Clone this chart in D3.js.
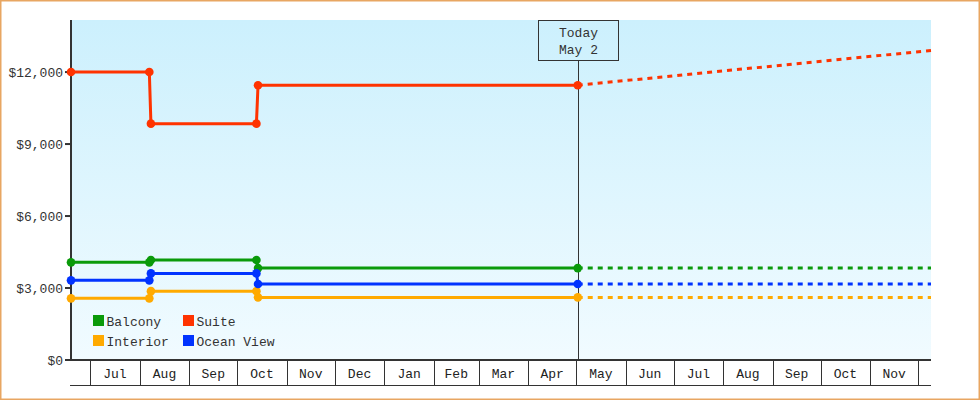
<!DOCTYPE html>
<html>
<head>
<meta charset="utf-8">
<script src="https://cdn.jsdelivr.net/npm/d3@7"></script>
<style>
  html, body { margin: 0; padding: 0; background: #fff; }
  svg { display: block; font-family: "Liberation Mono", "DejaVu Sans Mono", monospace; font-size: 13px; }
</style>
</head>
<body>
<svg id="chart" width="980" height="400"></svg>
<script>
// ---- data ----
const seriesNames = ["Balcony", "Suite", "Interior", "Ocean View"];
const seriesColors = ["#0a9a0a", "#ff3300", "#ffaa00", "#0033ff"];
const priceDates = ["2012-06-19", "2012-08-07", "2012-08-08", "2012-10-13", "2012-10-14", "2013-05-02"];
const balcony   = [4070, 4070, 4170, 4170, 3830, 3830];
const suite     = [12000, 12000, 9850, 9850, 11450, 11450];
const interior  = [2570, 2570, 2870, 2870, 2610, 2610];
const oceanView = [3320, 3320, 3610, 3610, 3170, 3170];
const projectionEnd = "2013-12-09";
const projected = [3830, 12900, 2610, 3170];   // same order as seriesNames
const todayLabel = ["Today", "May 2"];
const yTicks = [0, 3000, 6000, 9000, 12000];
const yMax = 14170;

// ---- layout ----
const W = 980, H = 400;
const m = { top: 20, right: 49, bottom: 40, left: 71 };
const svg = d3.select("#chart");
const parse = d3.timeParse("%Y-%m-%d");
const dates = priceDates.map(parse);
const endDate = parse(projectionEnd);
const today = dates[dates.length - 1];
const values = [balcony, suite, interior, oceanView];

const x = d3.scaleTime()
  .domain([dates[0], endDate])
  .range([m.left, W - m.right]);
const y = d3.scaleLinear()
  .domain([0, yMax])
  .range([H - m.bottom, m.top]);

// outer frame
svg.append("rect")
  .attr("x", 0.75).attr("y", 0.75)
  .attr("width", W - 1.5).attr("height", H - 1.5)
  .attr("fill", "#fff").attr("stroke", "#e8a662").attr("stroke-width", 1.5);

// plot background gradient
const grad = svg.append("defs").append("linearGradient")
  .attr("id", "bg").attr("x1", 0).attr("y1", 0).attr("x2", 0).attr("y2", 1);
grad.append("stop").attr("offset", "0%").attr("stop-color", "#ccf0fd");
grad.append("stop").attr("offset", "100%").attr("stop-color", "#f1fbff");

svg.append("rect")
  .attr("x", m.left).attr("y", m.top)
  .attr("width", W - m.left - m.right)
  .attr("height", H - m.top - m.bottom)
  .attr("fill", "url(#bg)");

// ---- x axis: month cells ----
const axisTop = H - m.bottom, axisBottom = axisTop + 25;
const xg = svg.append("g").attr("shape-rendering", "crispEdges");
const monthStarts = d3.timeMonth.range(d3.timeMonth.ceil(dates[0]), endDate);

xg.selectAll("line.sep")
  .data(monthStarts)
  .join("line")
  .attr("class", "sep")
  .attr("x1", d => Math.round(x(d)) + 0.5).attr("x2", d => Math.round(x(d)) + 0.5)
  .attr("y1", axisTop).attr("y2", axisBottom)
  .attr("stroke", "#333");

xg.append("line")
  .attr("x1", m.left - 1).attr("x2", W - m.right)
  .attr("y1", axisBottom + 0.5).attr("y2", axisBottom + 0.5)
  .attr("stroke", "#333").attr("stroke-width", 1.3);

const fullMonths = monthStarts.filter(d => d3.timeMonth.offset(d, 1) <= endDate);
xg.selectAll("text.month")
  .data(fullMonths)
  .join("text")
  .attr("class", "month")
  .attr("x", d => (x(d) + x(d3.timeMonth.offset(d, 1))) / 2)
  .attr("y", axisTop + 18)
  .attr("text-anchor", "middle")
  .attr("fill", "#222")
  .text(d3.timeFormat("%b"));

xg.append("line")
  .attr("x1", m.left).attr("x2", W - m.right)
  .attr("y1", axisTop).attr("y2", axisTop)
  .attr("stroke", "#333").attr("stroke-width", 2);

// ---- y axis ----
const yg = svg.append("g");
yg.append("line")
  .attr("x1", m.left).attr("x2", m.left)
  .attr("y1", m.top).attr("y2", axisTop + 1)
  .attr("stroke", "#333").attr("stroke-width", 2);
yg.selectAll("line.tick")
  .data(yTicks)
  .join("line")
  .attr("class", "tick")
  .attr("x1", m.left - 6).attr("x2", m.left)
  .attr("y1", d => y(d)).attr("y2", d => y(d))
  .attr("stroke", "#333").attr("stroke-width", 2);
yg.selectAll("text")
  .data(yTicks)
  .join("text")
  .attr("x", m.left - 8)
  .attr("y", d => y(d))
  .attr("dy", "0.35em")
  .attr("text-anchor", "end")
  .attr("fill", "#333")
  .text(d => "$" + d3.format(",")(d));

// ---- today marker ----
const tx = Math.round(x(today)) + 0.5;
svg.append("line")
  .attr("x1", tx).attr("x2", tx)
  .attr("y1", m.top + 40).attr("y2", axisTop)
  .attr("stroke", "#333").attr("shape-rendering", "crispEdges");
svg.append("rect")
  .attr("x", tx - 40).attr("y", m.top + 0.5)
  .attr("width", 80).attr("height", 40)
  .attr("fill", "none").attr("stroke", "#333")
  .attr("shape-rendering", "crispEdges");
svg.selectAll("text.today")
  .data(todayLabel)
  .join("text")
  .attr("class", "today")
  .attr("x", tx)
  .attr("y", (d, i) => m.top + 16.5 + i * 17)
  .attr("text-anchor", "middle")
  .attr("fill", "#333")
  .text(d => d);

// ---- series ----
const line = d3.line().x(d => x(d[0])).y(d => y(d[1]));
const plot = svg.append("g");

seriesNames.forEach((name, i) => {
  const pts = dates.map((d, j) => [d, values[i][j]]);
  const g = plot.append("g");
  g.append("path")
    .attr("d", line([[today, values[i][values[i].length - 1]], [endDate, projected[i]]]))
    .attr("fill", "none")
    .attr("stroke", seriesColors[i])
    .attr("stroke-width", 3)
    .attr("stroke-dasharray", "5,5");
  g.append("path")
    .attr("d", line(pts))
    .attr("fill", "none")
    .attr("stroke", seriesColors[i])
    .attr("stroke-width", 3);
  g.selectAll("circle")
    .data(pts)
    .join("circle")
    .attr("cx", d => x(d[0]))
    .attr("cy", d => y(d[1]))
    .attr("r", 4.3)
    .attr("fill", seriesColors[i]);
});

// ---- legend ----
const legend = svg.append("g").attr("transform", "translate(93,315)");
const li = legend.selectAll("g")
  .data(seriesNames)
  .join("g")
  .attr("transform", (d, i) => `translate(${(i % 2) * 90},${Math.floor(i / 2) * 20})`);
li.append("rect")
  .attr("width", 11).attr("height", 11)
  .attr("fill", (d, i) => seriesColors[i]);
li.append("text")
  .attr("x", 13.5).attr("y", 10.5)
  .attr("fill", "#333")
  .text(d => d);
</script>
</body>
</html>
